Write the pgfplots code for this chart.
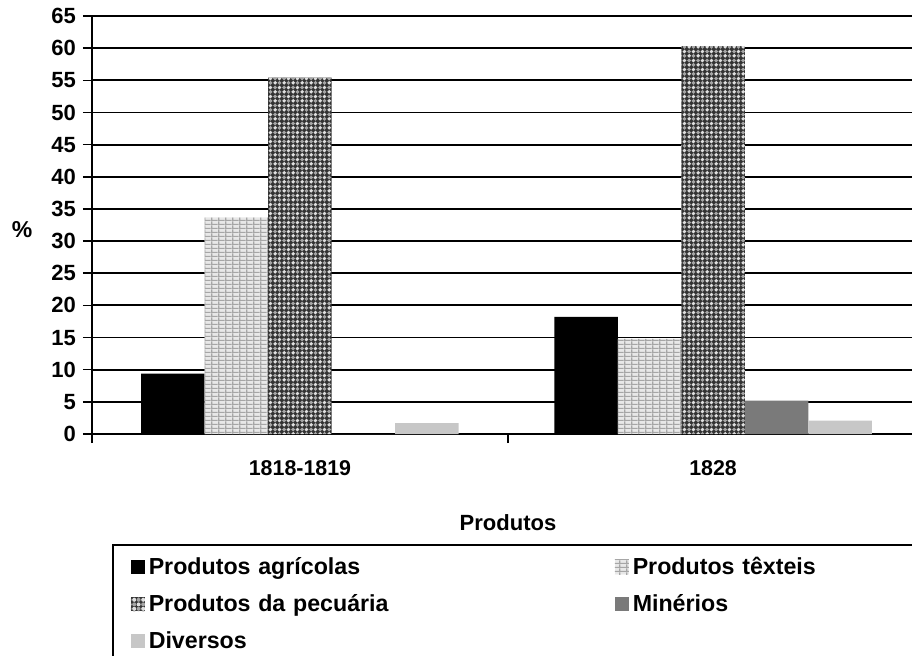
\documentclass[border=0pt]{standalone}
\usepackage{fontspec}
\setmainfont{Liberation Sans}
\usepackage{pgfplots}
\pgfplotsset{compat=1.18}
\usetikzlibrary{patterns}

\pgfdeclarepatternformonly{textgrid}{\pgfqpoint{0pt}{0pt}}{\pgfqpoint{3.4pt}{2.1pt}}{\pgfqpoint{3.4pt}{2.1pt}}{%
  \pgfsetlinewidth{0.7pt}%
  \pgfpathmoveto{\pgfqpoint{0pt}{0.35pt}}\pgfpathlineto{\pgfqpoint{3.4pt}{0.35pt}}%
  \pgfpathmoveto{\pgfqpoint{0.35pt}{0pt}}\pgfpathlineto{\pgfqpoint{0.35pt}{2.1pt}}%
  \pgfusepath{stroke}}
\pgfdeclarepatternformonly{lightdots}{\pgfqpoint{0pt}{0pt}}{\pgfqpoint{4.4pt}{4.4pt}}{\pgfqpoint{4.4pt}{4.4pt}}{%
  \pgfpathcircle{\pgfqpoint{1.1pt}{1.1pt}}{1.0pt}%
  \pgfpathcircle{\pgfqpoint{3.3pt}{3.3pt}}{1.0pt}%
  \pgfusepath{fill}}
\pgfdeclarepatternformonly{darkdots}{\pgfqpoint{0pt}{0pt}}{\pgfqpoint{4.4pt}{4.4pt}}{\pgfqpoint{4.4pt}{4.4pt}}{%
  \pgfpathcircle{\pgfqpoint{1.1pt}{3.3pt}}{1.0pt}%
  \pgfpathcircle{\pgfqpoint{3.3pt}{1.1pt}}{1.0pt}%
  \pgfusepath{fill}}

\pgfplotstableread{
x     agr   tex   pec   min  div
0.5   9.4   33.7  55.4  0    1.7
1.493 18.2  14.8  60.3  5.2  2.1
}\datatable

\begin{document}
\begin{tikzpicture}
\begin{axis}[
  at={(0,0)}, anchor=origin,
  scale only axis,
  width=416pt, height=209pt,
  xmin=0, xmax=2, ymin=0, ymax=65,
  axis x line=bottom, axis y line=left,
  axis line style={-, line width=0.9pt, black},
  ybar=0pt, bar width=31.75pt,
  ytick distance=5,
  ymajorgrids,
  major grid style={black, line width=0.9pt},
  tick align=outside,
  major tick length=4.5pt,
  tick style={black, line width=0.8pt},
  xtick={0,1,2},
  xticklabels={},
  extra x ticks={0.5,1.493},
  extra x tick labels={1818-1819,1828},
  extra x tick style={major tick length=0pt, grid=none,
     xticklabel style={anchor=center, yshift=-17pt, font=\fontsize{10.7}{12}\selectfont\bfseries}},
  yticklabel style={font=\fontsize{11}{13}\selectfont\bfseries},
  /pgf/number format/assume math mode=true,
  ylabel={\%},
  ylabel style={at={(axis description cs:-0.084,0.49)}, anchor=center, rotate=-90, font=\fontsize{11.5}{13}\selectfont\bfseries},
  xlabel={Produtos},
  xlabel style={at={(axis description cs:0.5,-0.213)}, anchor=center, font=\fontsize{11}{13}\selectfont\bfseries},
  legend columns=2,
  legend cell align=left,
  legend style={at={(axis description cs:0.024,-0.264)}, anchor=north west,
     draw=black, line width=0.8pt,
     font=\fontsize{11.6}{14}\selectfont\bfseries,
     row sep=4.5pt, inner ysep=4pt, inner xsep=9pt,
     /tikz/every even column/.append style={text width=231pt}},
  legend image code/.code={\fill[#1] (0cm,-0.12cm) rectangle (7pt,0.13cm);},
]
\addplot[draw=none, fill=black] table[x=x,y=agr]{\datatable};
\addlegendentry{Produtos agrícolas}
\addplot[draw=none, fill=gray!18, postaction={pattern=textgrid, pattern color=gray!70}] table[x=x,y=tex]{\datatable};
\addlegendentry{Produtos têxteis}
\addplot[draw=none, fill=black!80, postaction={pattern=lightdots, pattern color=gray!25}, postaction={pattern=darkdots, pattern color=gray!70}] table[x=x,y=pec]{\datatable};
\addlegendentry{Produtos da pecuária}
\addplot[draw=none, fill=black!52] table[x=x,y=min]{\datatable};
\addlegendentry{Minérios}
\addplot[draw=none, fill=black!22] table[x=x,y=div]{\datatable};
\addlegendentry{Diversos}
\end{axis}
\pgfresetboundingbox
\path[use as bounding box] (-46pt,-110.5pt) rectangle (410pt,217pt);
\end{tikzpicture}
\end{document}
